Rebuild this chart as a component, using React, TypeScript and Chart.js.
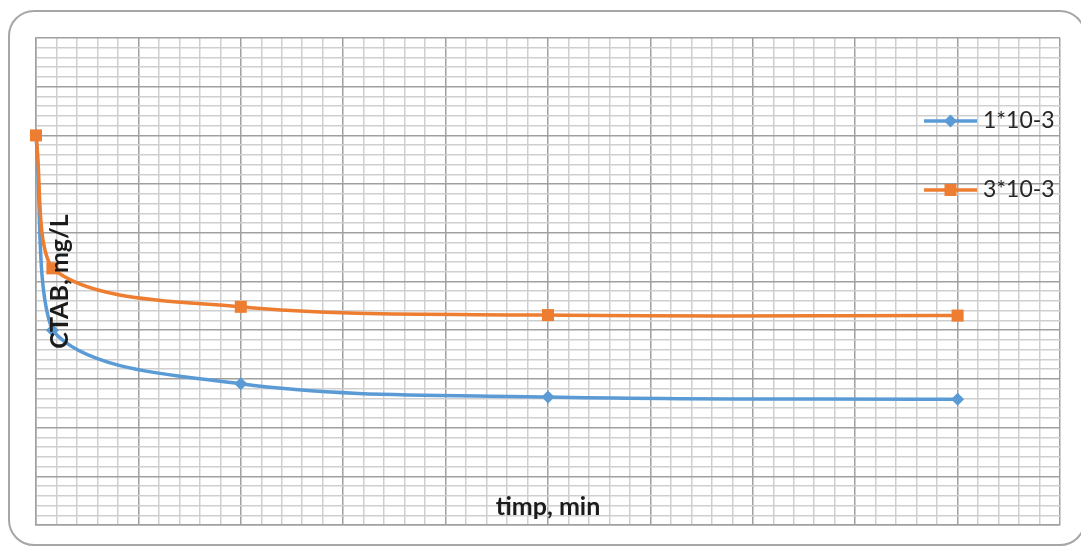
import React, { useEffect, useRef } from "react";
import { Chart, registerables } from "chart.js";

Chart.register(...registerables);

// ---- data ----
const timeMin = [0, 1.6, 20, 50, 90];
const series1Label = "1*10-3";
const series1 = [80, 40, 29, 26.3, 25.8];
const series2Label = "3*10-3";
const series2 = [80, 52.7, 44.8, 43.1, 43];
const xTitle = "timp, min";
const yTitle = "CTAB, mg/L";
const axisMin = 0;
const axisMax = 100;
const minorStep = 2;
const majorStep = 10;

const BLUE = "#5B9BD5";
const ORANGE = "#ED7D31";

const gridColor = (ctx: any) =>
  Math.round(ctx.tick.value) % majorStep === 0 ? "#a0a0a0" : "#cfcfcf";

const overlayPlugin = {
  id: "overlayTexts",
  afterDatasetsDraw(chart: any) {
    const { ctx, chartArea } = chart;
    ctx.save();
    // axis titles (drawn inside the plot, as in the reference)
    ctx.fillStyle = "#1b1b1b";
    ctx.font = "bold 25px Lato";
    ctx.textAlign = "center";
    ctx.textBaseline = "alphabetic";
    ctx.fillText(xTitle, (chartArea.left + chartArea.right) / 2, chartArea.bottom - 10);
    ctx.save();
    ctx.translate(chartArea.left + 32, (chartArea.top + chartArea.bottom) / 2);
    ctx.rotate(-Math.PI / 2);
    ctx.fillText(yTitle, 0, 0);
    ctx.restore();

    // legend
    chart.data.datasets.forEach((ds: any, i: number) => {
      const y = 121 + i * 69;
      const x0 = 924;
      const x1 = 977;
      const cx = (x0 + x1) / 2;
      ctx.strokeStyle = ds.borderColor;
      ctx.lineWidth = 3.5;
      ctx.beginPath();
      ctx.moveTo(x0, y);
      ctx.lineTo(x1, y);
      ctx.stroke();
      ctx.fillStyle = ds.pointBackgroundColor;
      const r = ds.pointRadius;
      ctx.beginPath();
      if (ds.pointStyle === "rect") {
        const s = Math.SQRT1_2 * r;
        ctx.rect(cx - s, y - s, 2 * s, 2 * s);
      } else {
        ctx.moveTo(cx - r, y);
        ctx.lineTo(cx, y - r);
        ctx.lineTo(cx + r, y);
        ctx.lineTo(cx, y + r);
        ctx.closePath();
      }
      ctx.fill();
      ctx.fillStyle = "#262626";
      ctx.font = "23px Lato";
      ctx.textAlign = "left";
      ctx.textBaseline = "middle";
      ctx.fillText(ds.label, 983, y);
    });
    ctx.restore();
  },
};

export default function App() {
  const canvasRef = useRef<HTMLCanvasElement | null>(null);

  useEffect(() => {
    if (!canvasRef.current) return;
    const chart = new Chart(canvasRef.current, {
      type: "scatter",
      data: {
        datasets: [
          {
            label: series1Label,
            data: timeMin.map((x, i) => ({ x, y: series1[i] })),
            showLine: true,
            borderColor: BLUE,
            backgroundColor: BLUE,
            pointBackgroundColor: BLUE,
            pointBorderColor: BLUE,
            borderWidth: 3.5,
            pointStyle: "rectRot",
            pointRadius: 6.5,
            pointBorderWidth: 0,
            tension: 0.33,
            order: 1,
            clip: false as any,
          },
          {
            label: series2Label,
            data: timeMin.map((x, i) => ({ x, y: series2[i] })),
            showLine: true,
            borderColor: ORANGE,
            backgroundColor: ORANGE,
            pointBackgroundColor: ORANGE,
            pointBorderColor: ORANGE,
            borderWidth: 3.5,
            pointStyle: "rect",
            pointRadius: 8.5,
            pointBorderWidth: 0,
            tension: 0.33,
            order: 0,
            clip: false as any,
          },
        ],
      },
      options: {
        responsive: false,
        animation: false,
        devicePixelRatio: 1,
        layout: { padding: { left: 36, top: 38, right: 21, bottom: 23 } },
        plugins: {
          legend: { display: false },
          tooltip: { enabled: false },
        },
        scales: {
          x: {
            type: "linear",
            min: axisMin,
            max: axisMax,
            ticks: { display: false, stepSize: minorStep, maxTicksLimit: 1000 },
            grid: { color: gridColor, lineWidth: 1.5, drawTicks: false },
            border: { display: true, color: "#a0a0a0", width: 1.5 },
          },
          y: {
            type: "linear",
            min: axisMin,
            max: axisMax,
            ticks: { display: false, stepSize: minorStep, maxTicksLimit: 1000 },
            grid: { color: gridColor, lineWidth: 1.5, drawTicks: false },
            border: { display: true, color: "#a0a0a0", width: 1.5 },
          },
        },
      },
      plugins: [overlayPlugin],
    });
    return () => chart.destroy();
  }, []);

  return (
    <div style={{ position: "fixed", left: 0, top: 0, width: 1081, height: 548, background: "#fff" }}>
      <div
        style={{
          position: "absolute",
          left: 8,
          top: 10,
          width: 1078,
          height: 536,
          boxSizing: "border-box",
          border: "2px solid #a6a6a6",
          borderRadius: 26,
        }}
      />
      <canvas
        ref={canvasRef}
        width={1081}
        height={548}
        style={{ position: "absolute", left: 0, top: 0, width: 1081, height: 548 }}
      />
    </div>
  );
}
